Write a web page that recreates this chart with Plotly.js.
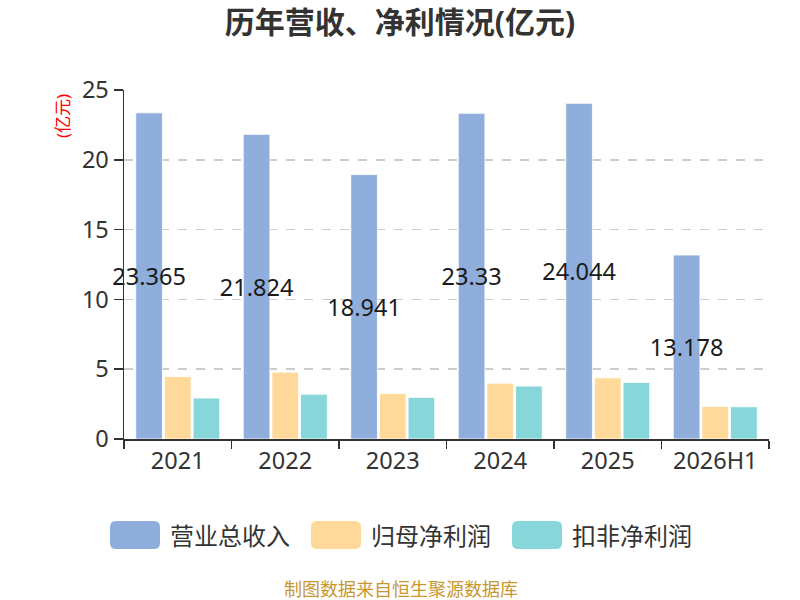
<!DOCTYPE html>
<html>
<head>
<meta charset="utf-8">
<script src="https://cdn.plot.ly/plotly-3.0.1.min.js"></script>
<style>
  html, body { margin: 0; padding: 0; background: #fff; }
  #chart { width: 800px; height: 600px; }
</style>
</head>
<body>
<div id="chart"></div>
<script>
const years = ["2021", "2022", "2023", "2024", "2025", "2026H1"]
const seriesNames = ["营业总收入", "归母净利润", "扣非净利润"]
const revenue = [23.365, 21.824, 18.941, 23.33, 24.044, 13.178]
const netProfit = [4.48, 4.79, 3.26, 4.0, 4.38, 2.33]
const deductedProfit = [2.93, 3.21, 2.98, 3.79, 4.05, 2.31]
const colors = ["#8FAEDC", "#FFD999", "#87D6DA"]

const fontFamily = "'Noto Sans', 'Noto Sans CJK SC', sans-serif"

// plot area in pixels
const L = 124, R = 31, T = 90, B = 161
const W = 800 - L - R
const H = 600 - T - B
const px = (x) => (x - L) / W
const py = (y) => (600 - B - y) / H

const traces = [revenue, netProfit, deductedProfit].map((vals, i) => ({
  type: "bar",
  x: years,
  y: vals,
  name: seriesNames[i],
  marker: { color: colors[i], line: { color: "#fff", width: 0.8 } },
  text: i === 0 ? vals.map(String) : undefined,
  textposition: i === 0 ? "inside" : "none",
  insidetextanchor: "middle",
  textangle: 0,
  constraintext: "none",
  textfont: { size: 23.5, color: "#1a1a1a", family: fontFamily },
  cliponaxis: false,
  hoverinfo: "x+y",
}))

// hand made legend with big rounded swatches
function roundRect(x0, y0, x1, y1, r) {
  const rx = r / W, ry = r / H
  const a = px(x0), b = px(x1), top = py(y0), bot = py(y1)
  return `M ${a + rx} ${top} L ${b - rx} ${top} Q ${b} ${top} ${b} ${top - ry} ` +
    `L ${b} ${bot + ry} Q ${b} ${bot} ${b - rx} ${bot} L ${a + rx} ${bot} ` +
    `Q ${a} ${bot} ${a} ${bot + ry} L ${a} ${top - ry} Q ${a} ${top} ${a + rx} ${top} Z`
}

const legendX = [110, 311, 512]
const shapes = []
const annotations = []
seriesNames.forEach((n, i) => {
  shapes.push({
    type: "path",
    xref: "paper",
    yref: "paper",
    path: roundRect(legendX[i], 521, legendX[i] + 50, 549, 6),
    fillcolor: colors[i],
    line: { width: 0 },
  })
  annotations.push({
    xref: "paper",
    yref: "paper",
    x: px(legendX[i] + 58),
    y: py(535),
    xanchor: "left",
    yanchor: "middle",
    text: n,
    showarrow: false,
    font: { size: 24, color: "#333", family: fontFamily },
  })
})

annotations.push({
  xref: "paper",
  yref: "paper",
  x: px(63),
  y: py(116),
  textangle: -90,
  text: "(亿元)",
  showarrow: false,
  xanchor: "center",
  yanchor: "middle",
  font: { size: 17, color: "#ff0000", family: fontFamily },
})

annotations.push({
  xref: "paper",
  yref: "paper",
  x: px(401),
  y: py(589),
  text: "制图数据来自恒生聚源数据库",
  showarrow: false,
  xanchor: "center",
  yanchor: "middle",
  font: { size: 18, color: "#C9972E", family: fontFamily },
})

const layout = {
  width: 800,
  height: 600,
  margin: { l: L, r: R, t: T, b: B },
  paper_bgcolor: "#fff",
  plot_bgcolor: "#fff",
  showlegend: false,
  barmode: "group",
  bargap: 0.2,
  bargroupgap: 0.07,
  title: {
    text: "<b>历年营收、净利情况(亿元)</b>",
    x: 0.5,
    xanchor: "center",
    y: 1 - 22 / 600,
    yanchor: "middle",
    font: { size: 30, color: "#333", family: fontFamily },
  },
  xaxis: {
    type: "category",
    showline: true,
    linecolor: "#333",
    linewidth: 1.5,
    ticks: "outside",
    tickson: "boundaries",
    ticklen: 8,
    tickcolor: "#333",
    tickwidth: 1.5,
    showgrid: false,
    tickfont: { size: 23.5, color: "#333", family: fontFamily },
  },
  yaxis: {
    range: [0, 25],
    tickvals: [0, 5, 10, 15, 20, 25],
    showline: true,
    linecolor: "#333",
    linewidth: 1.5,
    ticks: "outside",
    ticklen: 9,
    tickcolor: "#333",
    tickwidth: 1.5,
    showgrid: true,
    gridcolor: "#cccccc",
    gridwidth: 1.5,
    griddash: "dash",
    zeroline: false,
    tickfont: { size: 23.5, color: "#333", family: fontFamily },
  },
  shapes: shapes,
  annotations: annotations,
}

Plotly.newPlot("chart", traces, layout, { displayModeBar: false, staticPlot: true })
</script>
</body>
</html>
